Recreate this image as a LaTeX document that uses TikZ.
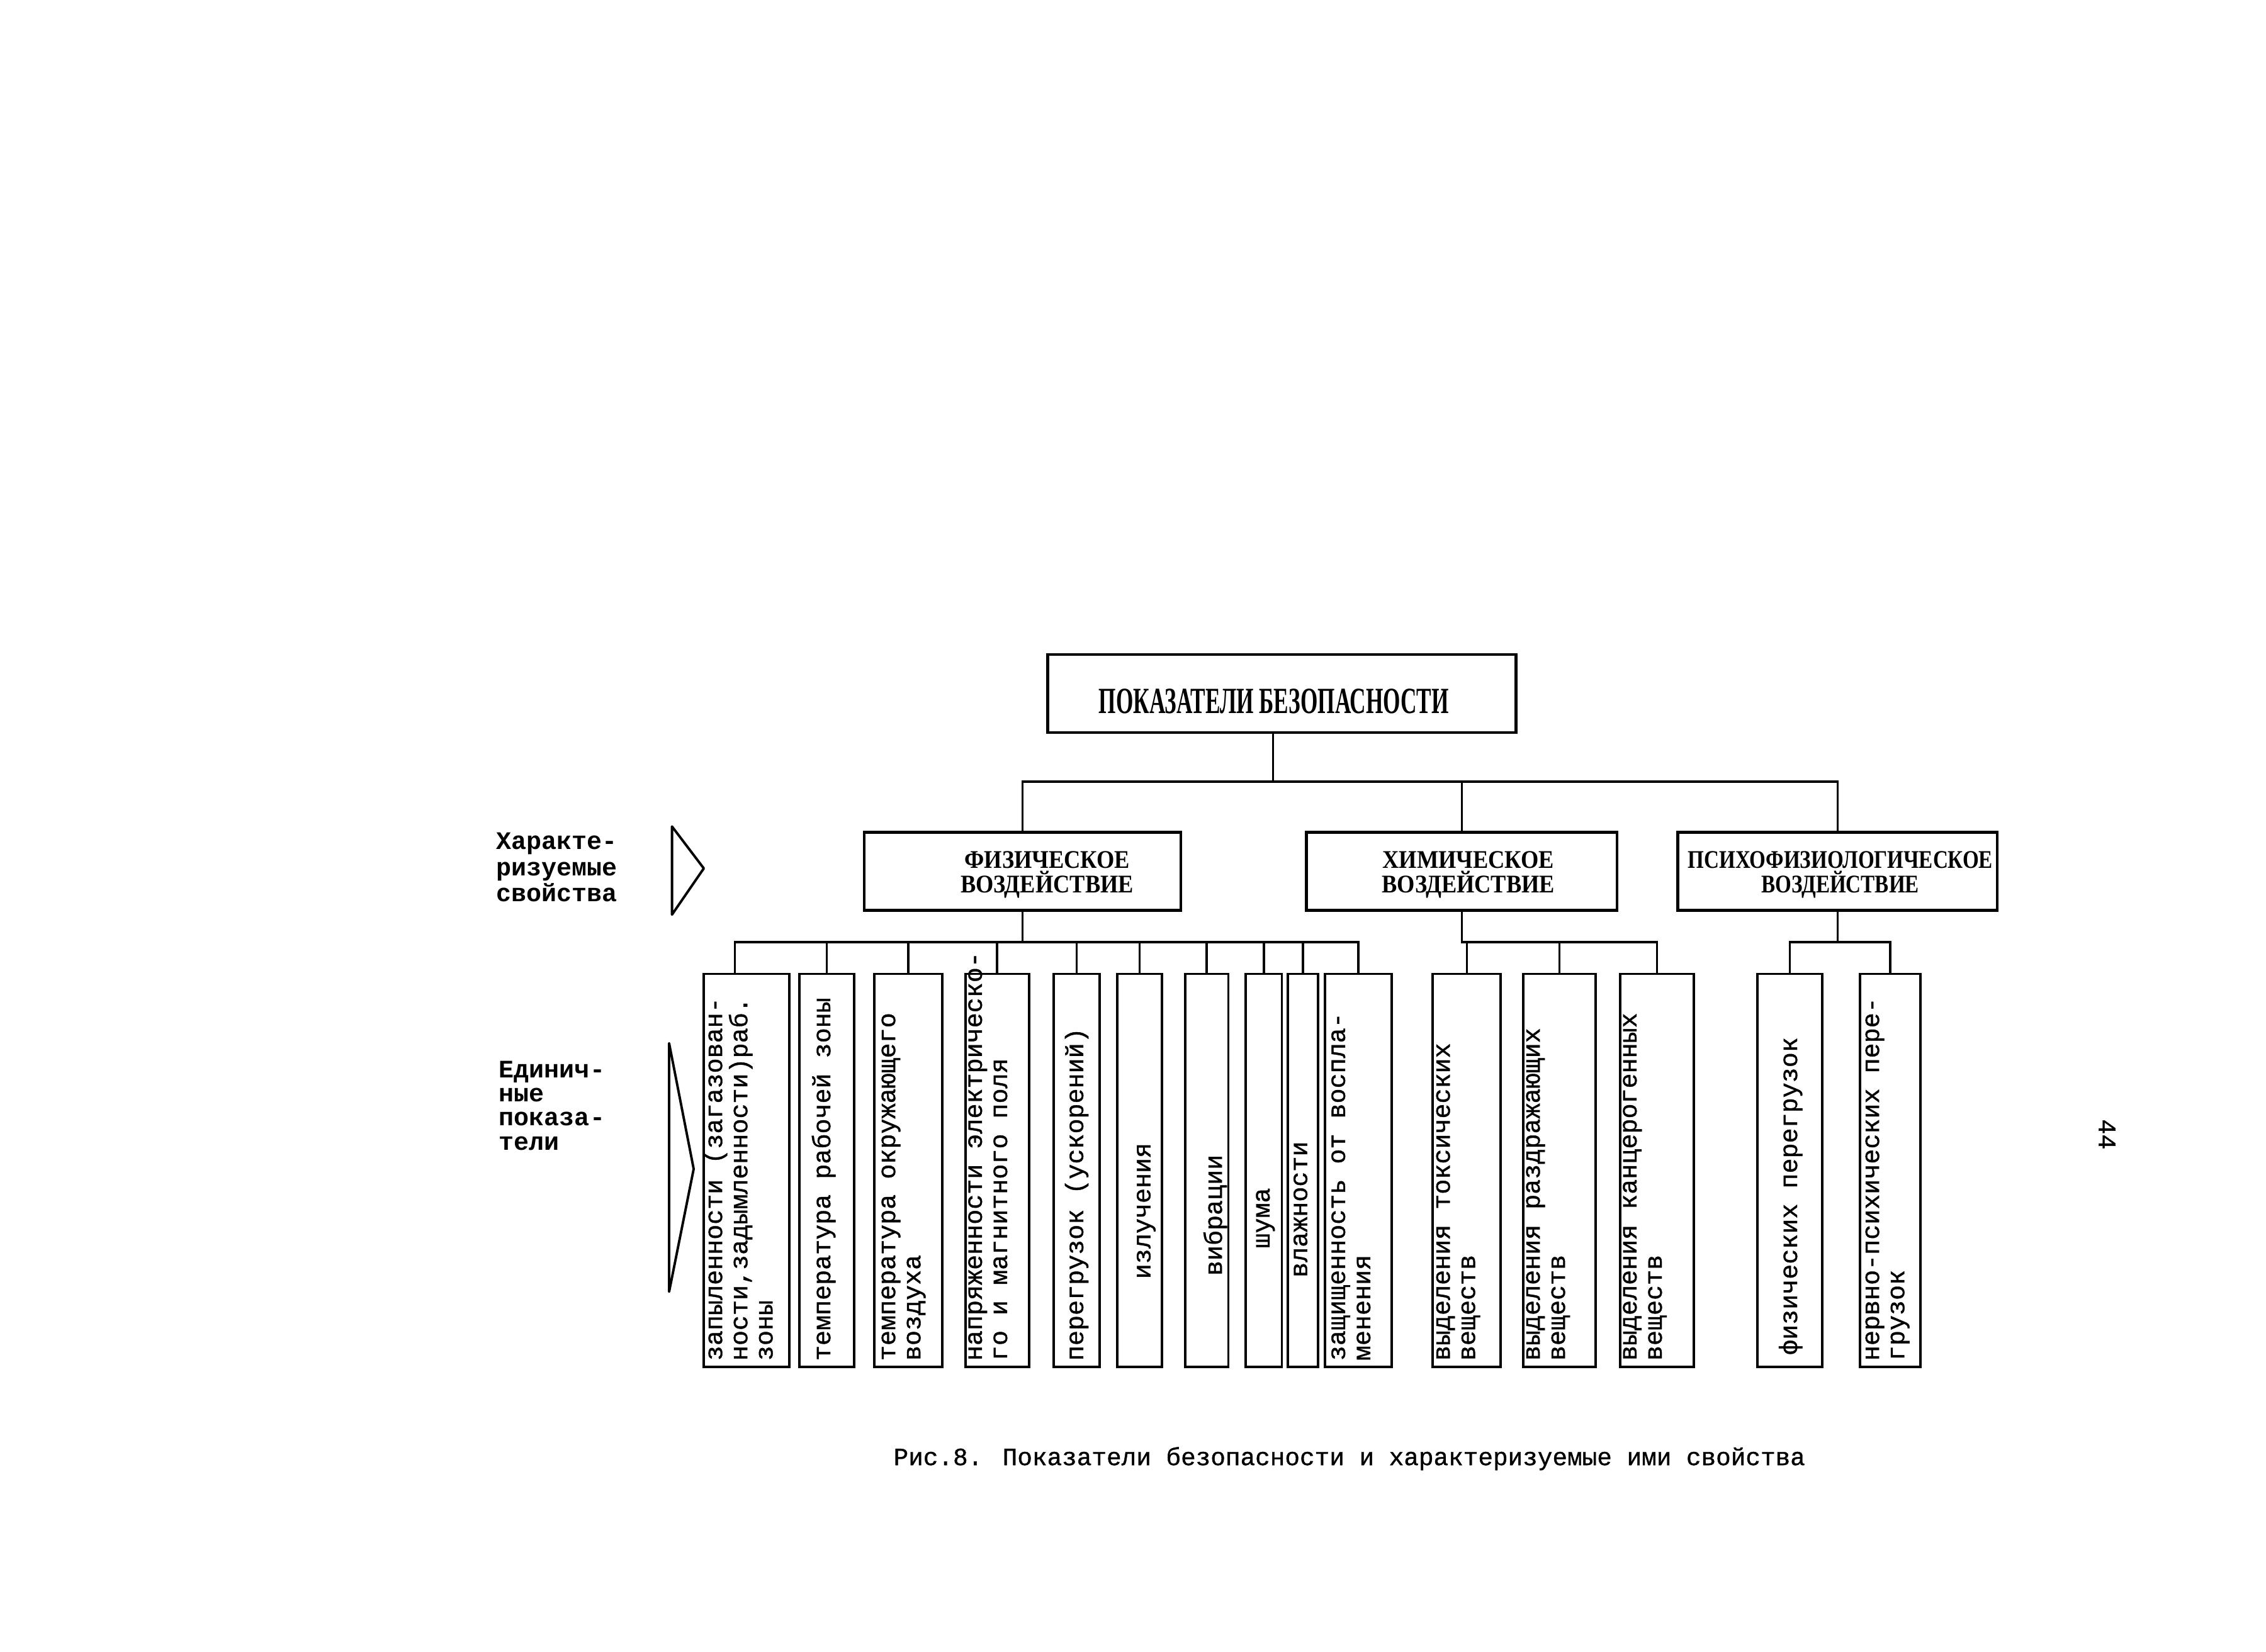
\documentclass[tikz,border=0pt]{standalone}
\usepackage{fontspec}
\setmainfont{Liberation Serif}
\newfontfamily\tmono{Liberation Mono}
\newfontfamily\tmonob[FakeBold=1]{Liberation Mono}
\newfontfamily\tcond[FakeStretch=0.9]{Liberation Serif}
\newfontfamily\tcondn[FakeStretch=0.82]{Liberation Serif}
\newfontfamily\tcondh[FakeStretch=0.6]{Liberation Serif}
\usetikzlibrary{calc}
\newcommand\leaffont{\tmonob\fontsize{11.4}{11.4}\selectfont}
\newcommand\capfont{\tmonob\fontsize{11.2}{11.4}\selectfont}
\newcommand\labfont{\tmono\bfseries\fontsize{11.4}{11.8}\selectfont}
\newcommand\labfontb{\tmono\bfseries\fontsize{11.4}{10.9}\selectfont}
\newcommand\boxfont{\tcond\bfseries\fontsize{11.5}{11.1}\selectfont}
\newcommand\boxfontn{\tcondn\bfseries\fontsize{11.5}{11.1}\selectfont}
\newcommand\headfnt{\tcondh\bfseries\fontsize{16.7}{18}\selectfont}
\def\uu{0.02296cm}
\tikzset{
  bigbox/.style={draw, line width=1.3pt, inner sep=0, minimum height=54*\uu},
  leafbox/.style={draw, line width=1.1pt, inner sep=0, minimum height=272*\uu},
  conn/.style={line width=1pt},
  tri/.style={line width=1.1pt, line join=round},
  titletext/.style={inner sep=0, align=center, font=\boxfont},
  leafmulti/.style={rotate=90, anchor=north west, inner sep=0, align=left, font=\leaffont, execute at begin node=\rule{0pt}{9pt}},
  leafone/.style={rotate=90, anchor=base west, inner sep=0, font=\leaffont},
  leafshort/.style={rotate=90, anchor=base, inner sep=0, font=\leaffont},
}
\begin{document}
\begin{tikzpicture}[x=\uu, y=-\uu]
\fill[white] (0,0) rectangle (1568,1143);
\useasboundingbox (0,0) rectangle (1568,1143);

% top box
\node[bigbox, minimum width=324*\uu] (top) at (887,480) {};
\node[inner sep=0, font=\headfnt] (topt) at (881.5,485.5) {ПОКАЗАТЕЛИ БЕЗОПАСНОСТИ};

% second level
\node[bigbox, minimum width=219*\uu] (p1) at (707.5,603) {};
\node[bigbox, minimum width=215*\uu] (p2) at (1011.5,603) {};
\node[bigbox, minimum width=221*\uu] (p3) at (1271.5,603) {};
\node[titletext] (p1t) at (724.6,605.5) {ФИЗИЧЕСКОЕ\\ВОЗДЕЙСТВИЕ};
\node[titletext] (p2t) at (1016,605.5) {ХИМИЧЕСКОЕ\\ВОЗДЕЙСТВИЕ};
\node[titletext, font=\boxfontn] (p3t) at (1273.5,605.5) {ПСИХОФИЗИОЛОГИЧЕСКОЕ\\ВОЗДЕЙСТВИЕ};

% leaf boxes
\node[leafbox, minimum width=59*\uu] (l1) at (516.5,810) {};
\node[leafbox, minimum width=38*\uu] (l2) at (572,810) {};
\node[leafbox, minimum width=47*\uu] (l3) at (628.5,810) {};
\node[leafbox, minimum width=44*\uu] (l4) at (690,810) {};
\node[leafbox, minimum width=32*\uu] (l5) at (745,810) {};
\node[leafbox, minimum width=31*\uu] (l6) at (788.5,810) {};
\node[leafbox, minimum width=30*\uu] (l7) at (835,810) {};
\node[leafbox, minimum width=25*\uu] (l8) at (874.5,810) {};
\node[leafbox, minimum width=21*\uu] (l9) at (901.5,810) {};
\node[leafbox, minimum width=46*\uu] (l10) at (940,810) {};
\node[leafbox, minimum width=47*\uu] (l11) at (1015,810) {};
\node[leafbox, minimum width=50*\uu] (l12) at (1079,810) {};
\node[leafbox, minimum width=51*\uu] (l13) at (1146.5,810) {};
\node[leafbox, minimum width=45*\uu] (l14) at (1238.5,810) {};
\node[leafbox, minimum width=42*\uu] (l15) at (1308,810) {};

% leaf texts
\node[leafmulti] (t1) at (486.7,942) {запыленности (загазован-\\ности,задымленности)раб.\\зоны};
\node[leafone] (t2) at (574.5,942) {температура рабочей зоны};
\node[leafmulti] (t3) at (609.7,942) {температура окружающего\\воздуха};
\node[leafmulti] (t4) at (669.7,942) {напряженности электрическо-\\го и магнитного поля};
\node[leafone] (t5) at (749.5,942) {перегрузок (ускорений)};
\node[leafshort] (t6) at (796,838) {излучения};
\node[leafshort] (t7) at (845.5,841) {вибрации};
\node[leafshort] (t8) at (878.5,843) {шума};
\node[leafshort] (t9) at (904.5,837) {влажности};
\node[leafmulti] (t10) at (921,942) {защищенность от воспла-\\менения};
\node[leafmulti] (t11) at (993.5,942) {выделения токсических\\веществ};
\node[leafmulti] (t12) at (1055.7,942) {выделения раздражающих\\веществ};
\node[leafmulti] (t13) at (1122.7,942) {выделения канцерогенных\\веществ};
\node[leafone] (t14) at (1243.5,938) {физических перегрузок};
\node[leafmulti] (t15) at (1290.5,942) {нервно-психических пере-\\грузок};

% side labels
\node[anchor=north west, inner sep=0, align=left, font=\labfont, execute at begin node=\rule{0pt}{9pt}] (lab1) at (343,576) {Характе-\\ризуемые\\свойства};
\node[anchor=north west, inner sep=0, align=left, font=\labfontb, execute at begin node=\rule{0pt}{9pt}] (lab2) at (345,734) {Единич-\\ные\\показа-\\тели};
\draw[tri] (465,572) -- (487,601) -- (465,633) -- cycle;
\draw[tri] (463,722) -- (480,809) -- (463,894) -- cycle;

% caption and page number
\node[anchor=base west, inner sep=0, font=\capfont] (cap) at (618,1014) {Рис.8. Показатели безопасности и характеризуемые ими свойства};
\node[rotate=-90, inner sep=0, font=\leaffont] (pg) at (1458,785) {44};

% connectors
\coordinate (bus1) at (0,541);
\coordinate (bus2) at (0,652);
\coordinate (topc) at ($(top.south)+(-6,0)$);
\draw[conn] (topc) -- (topc |- bus1);
\draw[conn] (p1.north) |- (p3.north |- bus1) -- (p3.north);
\draw[conn] (p2.north) -- (p2.north |- bus1);

\coordinate (l1c) at ($(l1.north)+(-8,0)$);
\draw[conn] (p1.south) -- (p1.south |- bus2);
\draw[conn] (l1c) |- (l10.north |- bus2) -- (l10.north);
\foreach \k in {2,...,9} \draw[conn] (l\k.north) -- (l\k.north |- bus2);

\draw[conn] (p2.south) |- (l13.north |- bus2) -- (l13.north);
\draw[conn] (l11.north) -- (l11.north |- bus2);
\draw[conn] (l12.north) -- (l12.north |- bus2);

\draw[conn] (l14.north) |- (l15.north |- bus2) -- (l15.north);
\draw[conn] (p3.south) -- (p3.south |- bus2);
\end{tikzpicture}
\end{document}
